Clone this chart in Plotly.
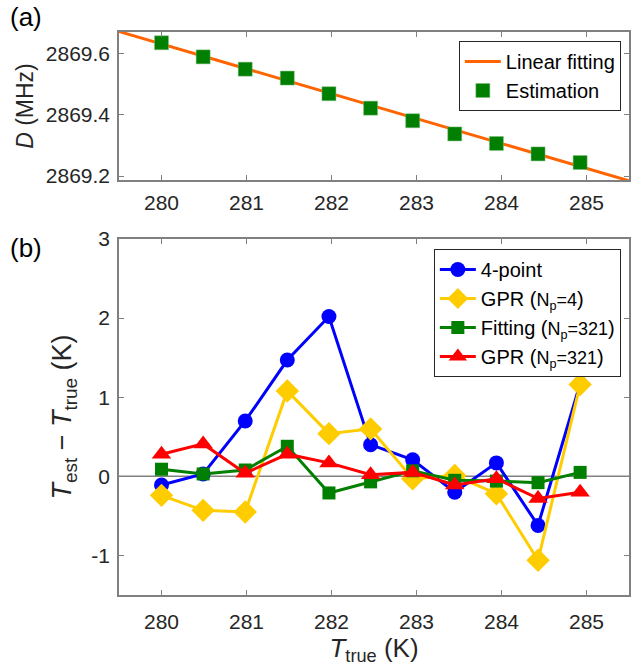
import plotly.graph_objects as go

# ---- data ----
T_true = [280.0, 280.49, 280.985, 281.48, 281.97, 282.46, 282.955, 283.45, 283.94, 284.43, 284.925]
D_est = [2869.634, 2869.588, 2869.548, 2869.519, 2869.468, 2869.421, 2869.380, 2869.337, 2869.306, 2869.272, 2869.244]
fit_x = [279.5, 285.5]
fit_slope = -0.081
fit_intercept = 2869.6705 + 0.081 * 279.5

err_4point = [-0.11, 0.03, 0.70, 1.47, 2.02, 0.40, 0.21, -0.20, 0.17, -0.62, 1.17]
err_gpr4 = [-0.24, -0.43, -0.45, 1.08, 0.54, 0.60, -0.03, 0.01, -0.22, -1.06, 1.16]
err_fit321 = [0.09, 0.03, 0.08, 0.38, -0.21, -0.07, 0.07, -0.05, -0.06, -0.08, 0.05]
err_gpr321 = [0.28, 0.41, 0.04, 0.28, 0.17, 0.02, 0.05, -0.11, -0.03, -0.28, -0.20]

xticks = [280, 281, 282, 283, 284, 285]
yticks_a = [2869.2, 2869.4, 2869.6]
yticks_b = [-1, 0, 1, 2, 3]
yticktext_b = ["-1", "0", "1", "2", "3"]

FONT = "Liberation Sans, Arial, sans-serif"
TXT = "#262626"
AX = "#808080"

fit_y = [fit_intercept + fit_slope * x for x in fit_x]

fig = go.Figure()
fig.add_trace(go.Scatter(x=fit_x, y=fit_y, mode="lines", name="Linear fitting",
                         line=dict(color="#FF6400", width=3), xaxis="x", yaxis="y", legend="legend"))
fig.add_trace(go.Scatter(x=T_true, y=D_est, mode="markers", name="Estimation",
                         marker=dict(symbol="square", size=14, color="#007F00",
                                     line=dict(color="#7FBF7F", width=0.5)),
                         xaxis="x", yaxis="y", legend="legend"))

small = "<span style='font-size:18px'>N<sub>p</sub>=%s</span>"
series = [
    ("4-point", err_4point, "#0000FF", "circle", 15),
    ("GPR (" + small % "4" + ")", err_gpr4, "#FFCC00", "diamond", 18),
    ("Fitting (" + small % "321" + ")", err_fit321, "#007F00", "square", 13),
    ("GPR (" + small % "321" + ")", err_gpr321, "#FF0000", "triangle-up", 17),
]
for name, vals, col, sym, sz in series:
    fig.add_trace(go.Scatter(x=T_true, y=vals, mode="lines+markers", name=name,
                             line=dict(color=col, width=3),
                             marker=dict(symbol=sym, size=sz, color=col),
                             xaxis="x2", yaxis="y2", legend="legend2"))

axcommon = dict(showline=True, linecolor=AX, linewidth=1.5, mirror="ticks",
                ticks="inside", ticklen=5, tickcolor=AX, tickwidth=1,
                showgrid=False, zeroline=False,
                tickfont=dict(family=FONT, size=21, color=TXT))

fig.update_layout(
    width=631, height=670,
    margin=dict(l=119, r=0, t=32, b=75),
    paper_bgcolor="white", plot_bgcolor="white",
    font=dict(family=FONT, color=TXT),
    showlegend=True,
    xaxis=dict(domain=[0, 1], range=[279.5, 285.5], tickvals=xticks, anchor="y",
               ticklabelstandoff=3, **axcommon),
    yaxis=dict(domain=[0.7371, 1], range=[2869.187, 2869.669], tickvals=yticks_a,
               tickformat=".1f", anchor="x", ticklabelstandoff=3,
               title=dict(text="<i>D</i> (MHz)", font=dict(family=FONT, size=23, color=TXT), standoff=6),
               **axcommon),
    xaxis2=dict(domain=[0, 1], range=[279.5, 285.5], tickvals=xticks, anchor="y2",
                ticklabelstandoff=7,
                title=dict(text="<i>T</i><sub>true</sub> (K)", font=dict(family=FONT, size=26, color=TXT), standoff=0),
                **axcommon),
    yaxis2=dict(domain=[0, 0.6323], range=[-1.5, 3], tickvals=yticks_b, ticktext=yticktext_b,
                anchor="x2", ticklabelstandoff=3,
                title=dict(text="<i>T</i><sub>est</sub> − <i>T</i><sub>true</sub> (K)",
                           font=dict(family=FONT, size=27, color=TXT), standoff=12),
                **axcommon),
    legend=dict(x=0.984, y=0.984, xanchor="right", yanchor="top",
                bgcolor="white", bordercolor="#262626", borderwidth=1,
                font=dict(family=FONT, size=20, color="black"),
                tracegroupgap=0, itemwidth=36),
    legend2=dict(x=0.984, y=0.6146, xanchor="right", yanchor="top",
                 bgcolor="white", bordercolor="#262626", borderwidth=1,
                 font=dict(family=FONT, size=20, color="black"),
                 tracegroupgap=0, itemwidth=36),
)
fig.add_annotation(text="(a)", xref="paper", yref="paper", x=-0.218, y=1.027,
                   xanchor="left", yanchor="middle", showarrow=False,
                   font=dict(family=FONT, size=26, color="black"))
fig.add_annotation(text="(b)", xref="paper", yref="paper", x=-0.218, y=0.6163,
                   xanchor="left", yanchor="middle", showarrow=False,
                   font=dict(family=FONT, size=26, color="black"))
# zero reference line in panel (b)
fig.add_shape(type="line", xref="x2 domain", yref="y2", x0=0, x1=1, y0=0, y1=0,
              line=dict(color=AX, width=1.5), layer="below")

fig.write_html("out.html")
